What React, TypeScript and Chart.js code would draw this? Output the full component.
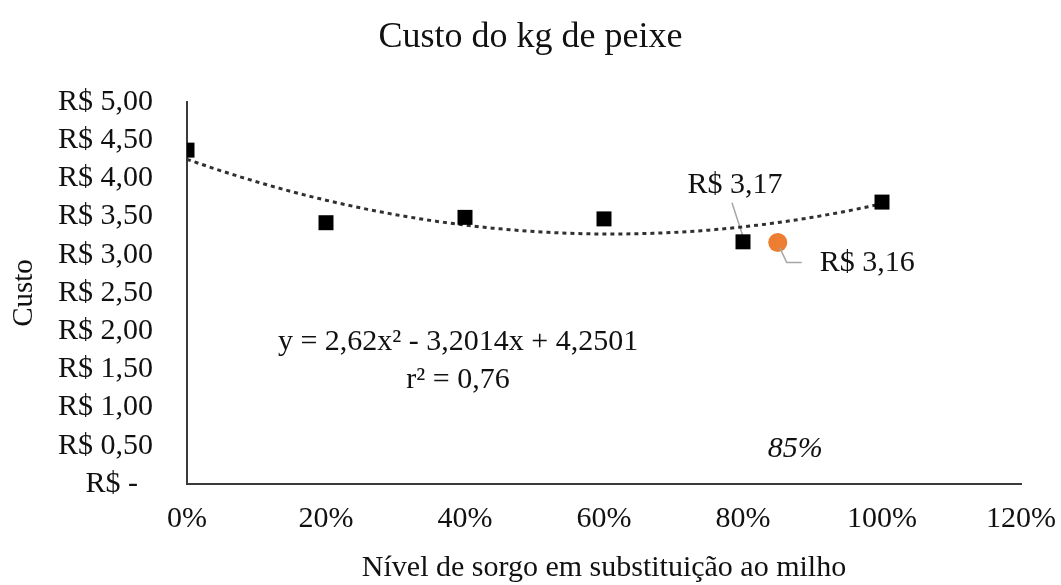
import React, { useEffect, useRef } from 'react';
import { Chart, registerables } from 'chart.js';

Chart.register(...registerables);

const chartTitle = 'Custo do kg de peixe';
const xAxisTitle = 'Nível de sorgo em substituição ao milho';
const yAxisTitle = 'Custo';

const levels = [0, 0.2, 0.4, 0.6, 0.8, 1.0];
const costs = [4.37, 3.42, 3.49, 3.47, 3.17, 3.69];

const optimumLevel = [0.85];
const optimumCost = [3.16];

// trendline y = a x^2 + b x + c, as printed on the chart
const trendCoefficients = [2.62, -3.2014, 4.2501];
const trendRange = [0, 1];

const xTickValues = [0, 0.2, 0.4, 0.6, 0.8, 1.0, 1.2];
const xTickLabels = ['0%', '20%', '40%', '60%', '80%', '100%', '120%'];
const yTickValues = [0, 0.5, 1, 1.5, 2, 2.5, 3, 3.5, 4, 4.5, 5];
const yTickLabels = ['R$ -  ', 'R$ 0,50', 'R$ 1,00', 'R$ 1,50', 'R$ 2,00', 'R$ 2,50', 'R$ 3,00', 'R$ 3,50', 'R$ 4,00', 'R$ 4,50', 'R$ 5,00'];

const equationLines = ['y = 2,62x\u00B2 - 3,2014x + 4,2501', 'r\u00B2 = 0,76'];
const equationAnchor = [0.39, 1.75];
const pointLabel80 = 'R$ 3,17';
const pointLabelOptimum = 'R$ 3,16';
const optimumPctLabel = '85%';
const optimumPctAnchor = [0.875, 0.35];

const FONT = "'Liberation Serif', 'Times New Roman', serif";
const TEXT = '#111111';

function trendPoints() {
  const [a, b, c] = trendCoefficients;
  const pts: { x: number; y: number }[] = [];
  const n = 100;
  for (let i = 0; i <= n; i++) {
    const xv = trendRange[0] + ((trendRange[1] - trendRange[0]) * i) / n;
    pts.push({ x: xv, y: a * xv * xv + b * xv + c });
  }
  return pts;
}

const annotationPlugin = {
  id: 'annotations',
  beforeDatasetsDraw(chart: any) {
    const { ctx, scales } = chart;
    const x = scales.x;
    const y = scales.y;
    ctx.save();
    ctx.strokeStyle = '#a6a6a6';
    ctx.lineWidth = 1.5;
    const p80x = x.getPixelForValue(levels[4]);
    const p80y = y.getPixelForValue(costs[4]);
    ctx.beginPath();
    ctx.moveTo(p80x - 11, p80y - 39);
    ctx.lineTo(p80x + 1, p80y - 2);
    ctx.stroke();
    ctx.restore();
  },
  afterDatasetsDraw(chart: any) {
    const { ctx, scales } = chart;
    const x = scales.x;
    const y = scales.y;
    ctx.save();
    // chart title, centred on the whole canvas
    ctx.fillStyle = TEXT;
    ctx.font = `36px ${FONT}`;
    ctx.textAlign = 'center';
    ctx.textBaseline = 'alphabetic';
    ctx.fillText(chartTitle, chart.width / 2, 47);

    // leader for optimum point
    const pox = x.getPixelForValue(optimumLevel[0]);
    const poy = y.getPixelForValue(optimumCost[0]);
    ctx.strokeStyle = '#a6a6a6';
    ctx.lineWidth = 1.5;
    ctx.beginPath();
    ctx.moveTo(pox + 2, poy + 5);
    ctx.lineTo(pox + 9, poy + 20);
    ctx.lineTo(pox + 24, poy + 20);
    ctx.stroke();

    ctx.font = `30px ${FONT}`;

    const p80x = x.getPixelForValue(levels[4]);
    const p80y = y.getPixelForValue(costs[4]);
    ctx.textAlign = 'center';
    ctx.fillText(pointLabel80, p80x - 8, p80y - 49);

    ctx.textAlign = 'left';
    ctx.fillText(pointLabelOptimum, pox + 42, poy + 28);

    ctx.textAlign = 'center';
    const ex = x.getPixelForValue(equationAnchor[0]);
    const ey = y.getPixelForValue(equationAnchor[1]);
    equationLines.forEach((t, i) => ctx.fillText(t, ex, ey + i * 38));

    ctx.font = `italic 30px ${FONT}`;
    ctx.fillText(optimumPctLabel, x.getPixelForValue(optimumPctAnchor[0]), y.getPixelForValue(optimumPctAnchor[1]));
    ctx.restore();
  },
};

export default function App() {
  const canvasRef = useRef<HTMLCanvasElement | null>(null);

  useEffect(() => {
    document.body.style.margin = '0';
    const canvas = canvasRef.current;
    if (!canvas) return;
    const chart = new Chart(canvas, {
      type: 'scatter',
      data: {
        datasets: [
          {
            label: 'Custo',
            data: levels.map((l, i) => ({ x: l, y: costs[i] })),
            pointStyle: 'rect',
            pointRadius: 10.6,
            backgroundColor: '#000000',
            borderColor: '#000000',
            borderWidth: 0,
            showLine: false,
          },
          {
            label: 'Ótimo',
            data: optimumLevel.map((l, i) => ({ x: l, y: optimumCost[i] })),
            pointStyle: 'circle',
            pointRadius: 9.5,
            backgroundColor: '#ED7D31',
            borderColor: '#ED7D31',
            borderWidth: 0,
            showLine: false,
          },
          {
            label: 'Tendência',
            type: 'line',
            data: trendPoints(),
            showLine: true,
            pointRadius: 0,
            borderColor: '#303030',
            borderWidth: 3,
            borderDash: [4, 4],
            fill: false,
            tension: 0,
          } as any,
        ],
      },
      options: {
        responsive: false,
        animation: false,
        layout: { padding: { left: 0, right: 40, top: 102, bottom: 0 } },
        plugins: {
          legend: { display: false },
          tooltip: { enabled: false },
          title: { display: false },
        },
        scales: {
          x: {
            type: 'linear',
            min: 0,
            max: 1.2,
            afterFit: (s: any) => { s.height = 101; s.paddingLeft = 0; s.paddingRight = 0; },
            afterBuildTicks: (s: any) => { s.ticks = xTickValues.map((v) => ({ value: v })); },
            grid: { display: false, drawTicks: false },
            border: { display: true, color: '#3a3a3a', width: 2 },
            ticks: {
              color: TEXT,
              font: { family: FONT, size: 30 },
              padding: 17,
              maxRotation: 0,
              autoSkip: false,
              callback: (_v: any, i: number) => xTickLabels[i],
            },
            title: {
              display: true,
              text: xAxisTitle,
              color: TEXT,
              font: { family: FONT, size: 30, lineHeight: 1 },
              padding: { top: 0, bottom: 2 },
            },
          },
          y: {
            type: 'linear',
            min: 0,
            max: 5,
            afterFit: (s: any) => { s.width = 187; s.paddingTop = 0; s.paddingBottom = 0; },
            afterBuildTicks: (s: any) => { s.ticks = yTickValues.map((v) => ({ value: v })); },
            grid: { display: false, drawTicks: false },
            border: { display: true, color: '#3a3a3a', width: 2 },
            ticks: {
              color: TEXT,
              font: { family: FONT, size: 30 },
              padding: 34,
              autoSkip: false,
              callback: (_v: any, i: number) => yTickLabels[i],
            },
            title: {
              display: true,
              text: yAxisTitle,
              color: TEXT,
              font: { family: FONT, size: 29, lineHeight: 1.2 },
              padding: { top: 7, bottom: 0 },
            },
          },
        },
      },
      plugins: [annotationPlugin],
    });
    return () => chart.destroy();
  }, []);

  return <canvas ref={canvasRef} width={1061} height={585} style={{ display: 'block' }} />;
}
